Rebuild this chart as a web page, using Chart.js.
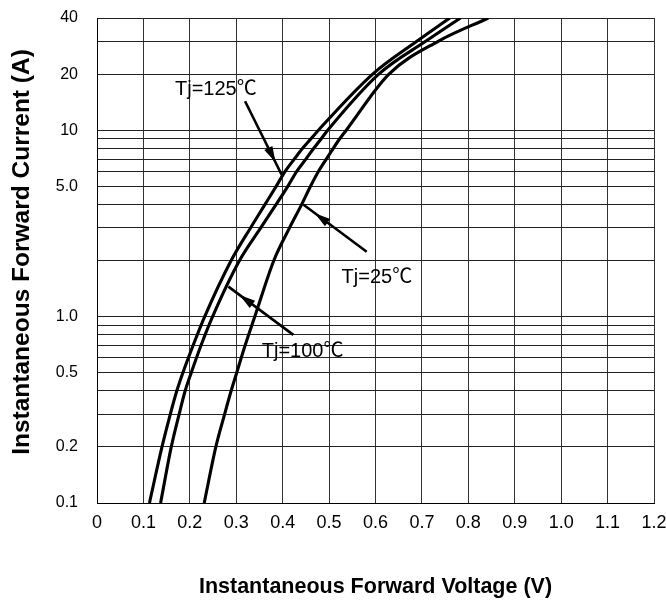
<!DOCTYPE html>
<html><head><meta charset="utf-8">
<script src="https://cdn.jsdelivr.net/npm/chart.js@4.4.1/dist/chart.umd.min.js"></script>
<style>html,body{margin:0;padding:0;background:#fff;}#wrap{width:666px;height:606px;}</style>
</head><body><div id="wrap"><canvas id="c" width="666" height="606"></canvas></div>
<script>
// ---- data ----
const currentLevels = [0.1, 0.2, 0.3, 0.4, 0.5, 0.7, 1, 2, 3, 4, 5, 6, 7, 8, 9, 10, 20, 30, 40];
const vf125 = [0.113, 0.140, 0.158, 0.172, 0.185, 0.207, 0.232, 0.289, 0.331, 0.362, 0.386, 0.405, 0.425, 0.443, 0.461, 0.477, 0.594, 0.689, 0.760];
const vf100 = [0.137, 0.160, 0.177, 0.190, 0.203, 0.224, 0.249, 0.307, 0.353, 0.386, 0.411, 0.430, 0.450, 0.467, 0.483, 0.497, 0.607, 0.708, 0.783];
const vf25  = [0.231, 0.256, 0.275, 0.289, 0.301, 0.319, 0.340, 0.381, 0.415, 0.441, 0.460, 0.477, 0.494, 0.509, 0.523, 0.537, 0.629, 0.735, 0.843];
const seriesNames = ['Tj=125\u2103', 'Tj=100\u2103', 'Tj=25\u2103'];

const xTickLabels = ['0', '0.1', '0.2', '0.3', '0.4', '0.5', '0.6', '0.7', '0.8', '0.9', '1.0', '1.1', '1.2'];
const yGridValues = [0.1, 0.2, 0.3, 0.4, 0.5, 0.6, 0.7, 0.8, 0.9, 1, 2, 3, 4, 5, 6, 7, 8, 9, 10, 20, 30, 40];
const yLabelValues = [0.1, 0.2, 0.5, 1, 5, 10, 20, 40];
const yLabelTexts  = ['0.1', '0.2', '0.5', '1.0', '5.0', '10', '20', '40'];

const xTitle = 'Instantaneous Forward Voltage (V)';
const yTitle = 'Instantaneous Forward Current (A)';

// callouts (data units): label anchor, arrow tail, arrow tip
const noteTextV = [0.168, 0.355, 0.527];
const noteTextI = [15.5, 0.608, 1.52];
const arrowTailV = [0.319, 0.423, 0.581];
const arrowTailI = [14.3, 0.798, 2.23];
const arrowTipV = [0.398, 0.283, 0.445];
const arrowTipI = [5.76, 1.449, 3.98];

const SANS = '"Liberation Sans", Arial, "Noto Sans CJK SC", sans-serif';

function pts(vs) { return vs.map((v, i) => ({ x: v, y: currentLevels[i] })); }

const notesPlugin = {
  id: 'notes',
  afterDatasetsDraw(chart) {
    const { ctx, scales: { x, y } } = chart;
    ctx.save();
    ctx.fillStyle = '#000';
    ctx.strokeStyle = '#000';
    for (let i = 0; i < seriesNames.length; i++) {
      ctx.font = '20px ' + SANS;
      ctx.textBaseline = 'alphabetic';
      ctx.textAlign = 'left';
      ctx.fillText(seriesNames[i], x.getPixelForValue(noteTextV[i]), y.getPixelForValue(noteTextI[i]));
      const x0 = x.getPixelForValue(arrowTailV[i]), y0 = y.getPixelForValue(arrowTailI[i]);
      const x1 = x.getPixelForValue(arrowTipV[i]), y1 = y.getPixelForValue(arrowTipI[i]);
      ctx.lineWidth = 2.6;
      ctx.beginPath(); ctx.moveTo(x0, y0); ctx.lineTo(x1, y1); ctx.stroke();
      const a = Math.atan2(y1 - y0, x1 - x0);
      const back = 14, L = 16, w = 4.5;
      const hx = x1 - back * Math.cos(a), hy = y1 - back * Math.sin(a);
      const bx = hx - L * Math.cos(a), by = hy - L * Math.sin(a);
      ctx.beginPath();
      ctx.moveTo(hx, hy);
      ctx.lineTo(bx + w * Math.sin(a), by - w * Math.cos(a));
      ctx.lineTo(bx - w * Math.sin(a), by + w * Math.cos(a));
      ctx.closePath(); ctx.fill();
    }
    // y-axis title, drawn rotated at the left edge
    ctx.font = 'bold 24.5px ' + SANS;
    ctx.textAlign = 'center';
    ctx.textBaseline = 'middle';
    ctx.translate(22, 252);
    ctx.rotate(-Math.PI / 2);
    ctx.fillText(yTitle, 0, 0);
    ctx.restore();
  }
};

const lineStyle = { borderColor: '#000', borderWidth: 3.1, pointRadius: 0, fill: false, cubicInterpolationMode: 'monotone' };

new Chart(document.getElementById('c'), {
  type: 'line',
  data: {
    datasets: [
      Object.assign({ label: seriesNames[0], data: pts(vf125) }, lineStyle),
      Object.assign({ label: seriesNames[1], data: pts(vf100) }, lineStyle),
      Object.assign({ label: seriesNames[2], data: pts(vf25) }, lineStyle)
    ]
  },
  options: {
    responsive: false,
    animation: false,
    devicePixelRatio: 1,
    layout: { padding: { top: 18, right: 12, left: 0, bottom: 0 } },
    plugins: { legend: { display: false }, tooltip: { enabled: false } },
    scales: {
      x: {
        type: 'linear', min: 0, max: 1.2,
        afterBuildTicks: s => { s.ticks = xTickLabels.map((t, i) => ({ value: i / 10 })); },
        afterFit: s => { s.height = 103; s.paddingLeft = 0; s.paddingRight = 0; },
        ticks: {
          autoSkip: false, maxRotation: 0, padding: 9, color: '#000',
          font: { family: SANS, size: 18 },
          callback: (v, i) => xTickLabels[i]
        },
        grid: { color: '#333', lineWidth: 1, drawTicks: false },
        border: { display: true, color: '#000', width: 1 },
        title: { display: true, text: xTitle, color: '#000', padding: { top: 0, bottom: 6 },
          font: { family: SANS, size: 21.5, weight: 'bold' } }
      },
      y: {
        type: 'logarithmic', min: 0.1, max: 40,
        afterBuildTicks: s => { s.ticks = yGridValues.map(v => ({ value: v })); },
        afterFit: s => { s.width = 97; s.paddingTop = 0; s.paddingBottom = 0; },
        ticks: {
          autoSkip: false, padding: 19, color: '#000',
          font: { family: SANS, size: 16 },
          callback: v => { const k = yLabelValues.findIndex(t => Math.abs(t - v) < 1e-9); return k >= 0 ? yLabelTexts[k] : ''; }
        },
        grid: { color: '#222', lineWidth: 1, drawTicks: false },
        border: { display: true, color: '#000', width: 1 },
        title: { display: false, text: yTitle }
      }
    }
  },
  plugins: [notesPlugin]
});
</script>
</body></html>
